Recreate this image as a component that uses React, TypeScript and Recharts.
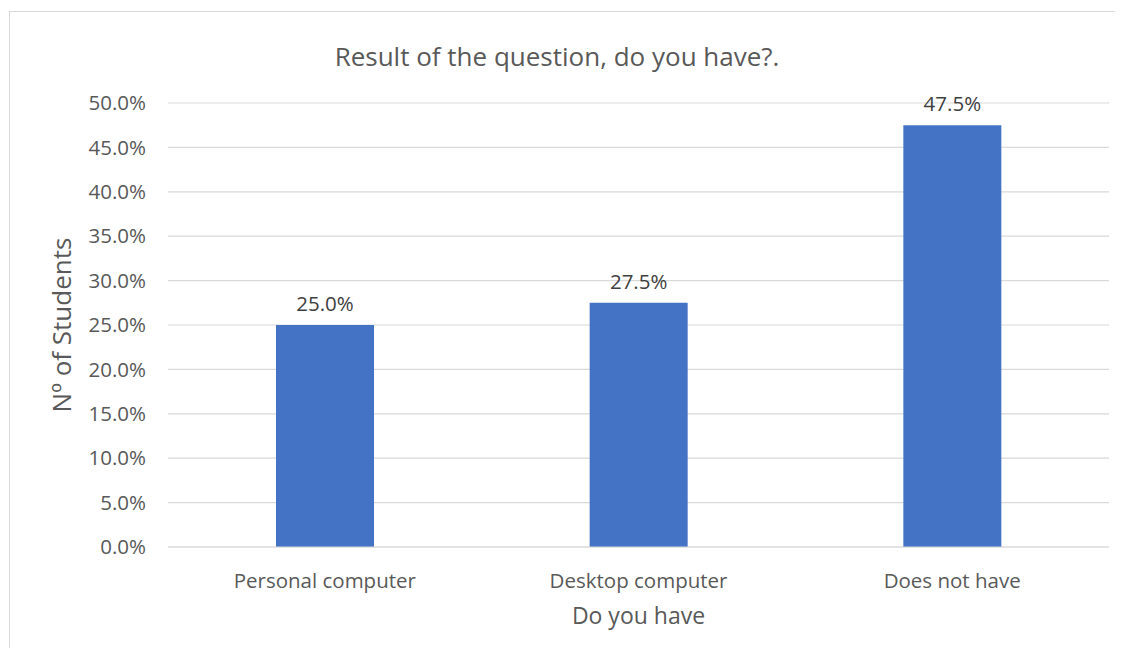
import { BarChart, Bar, XAxis, YAxis, CartesianGrid, LabelList, Label } from 'recharts'

const categories = ['Personal computer', 'Desktop computer', 'Does not have']
const shares = [25.0, 27.5, 47.5]
const yTicks = [0, 5, 10, 15, 20, 25, 30, 35, 40, 45, 50]

const data = categories.map((name, i) => ({ name, value: shares[i] }))

const FONT = '"Open Sans", sans-serif'
const GREY = '#595959'

export default function App() {
  const pct = (v: number) => `${v.toFixed(1)}%`

  return (
    <div style={{ position: 'relative', width: 1100, height: 640, fontFamily: FONT }}>
      {/* chart frame: only top and left edges fall inside the window */}
      <div
        style={{
          position: 'absolute', left: 1, top: 3, width: 1106, height: 645,
          borderTop: '1px solid #d9d9d9', borderLeft: '1px solid #d9d9d9',
          boxSizing: 'border-box',
        }}
      />
      <div
        style={{
          position: 'absolute', left: 249, top: 31, width: 600, textAlign: 'center',
          fontSize: 26, color: GREY, lineHeight: '34px', whiteSpace: 'nowrap',
        }}
      >
        Result of the question, do you have?.
      </div>
      <div style={{ position: 'absolute', left: 2, top: 4, width: 1100, height: 636, overflow: 'hidden' }}>
        <BarChart
          width={1114}
          height={646}
          data={data}
          margin={{ top: 91, right: 15, bottom: 0, left: 0 }}
        >
          <CartesianGrid vertical={false} stroke="#d9d9d9" strokeWidth={1.2} />
          <XAxis
            dataKey="name"
            height={111}
            axisLine={{ stroke: '#d9d9d9', strokeWidth: 1.2 }}
            tickLine={false}
            tickSize={0}
            tickMargin={26}
            tick={{ fill: GREY, fontSize: 20.5, fontFamily: FONT }}
          >
            <Label
              value="Do you have"
              position="insideBottom"
              offset={34}
              style={{ fill: GREY, fontSize: 23, fontFamily: FONT }}
            />
          </XAxis>
          <YAxis
            width={158}
            domain={[0, 50]}
            ticks={yTicks}
            tickFormatter={pct}
            axisLine={false}
            tickLine={false}
            tickSize={0}
            tickMargin={22}
            tick={{ fill: GREY, fontSize: 20.5, fontFamily: FONT }}
          >
            <Label
              value="Nº of Students"
              angle={-90}
              position="insideLeft"
              offset={52}
              style={{ fill: GREY, fontSize: 26, fontFamily: FONT, textAnchor: 'middle' }}
            />
          </YAxis>
          <Bar dataKey="value" fill="#4472c4" barSize={98} isAnimationActive={false}>
            <LabelList
              dataKey="value"
              position="top"
              offset={14}
              formatter={(v: any) => pct(Number(v))}
              style={{ fill: '#404040', fontSize: 20.5, fontFamily: FONT }}
            />
          </Bar>
        </BarChart>
      </div>
    </div>
  )
}
